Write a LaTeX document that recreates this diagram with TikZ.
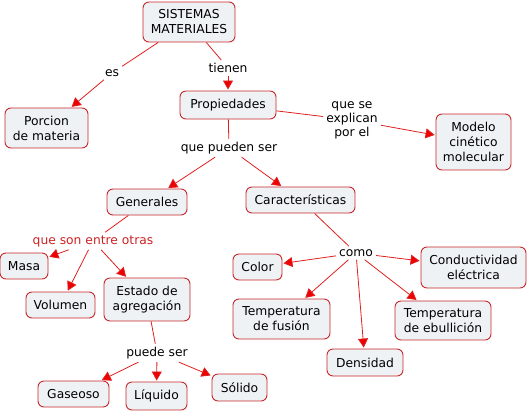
\documentclass[tikz,border=0pt]{standalone}
\usepackage{fontspec}
\setmainfont{DejaVu Sans}
\usetikzlibrary{arrows.meta}
\definecolor{boxborder}{HTML}{C8282A}
\definecolor{boxfill}{HTML}{EEF2F5}
\definecolor{linkred}{HTML}{E02020}
\definecolor{tipred}{HTML}{EE0000}
\definecolor{lblred}{HTML}{CC2222}
\tikzset{
  concept/.style={draw=boxborder, fill=boxfill, rounded corners=6pt, line width=0.9pt,
    align=center, inner sep=0pt, font=\fontsize{12.3}{15}\selectfont},
  linklabel/.style={inner sep=3pt, align=center, font=\fontsize{12.3}{14}\selectfont, text=black},
  link/.style={draw=linkred, line width=0.8pt},
  arrowlink/.style={link, -{Triangle[length=9pt,width=10pt,fill=tipred]}, shorten >=1pt}
}
\begin{document}
\begin{tikzpicture}[x=1pt,y=-1pt]
\useasboundingbox (0,0) rectangle (527,413);
% concepts
\node[concept, minimum width=92pt, minimum height=40pt] (sm) at (189,22) {SISTEMAS\\MATERIALES};
\node[concept, minimum width=83pt, minimum height=40pt] (por) at (46.5,128) {Porcion\\de materia};
\node[concept, minimum width=96pt, minimum height=28pt] (prop) at (228,105) {Propiedades};
\node[concept, minimum width=75pt, minimum height=56pt] (mod) at (473.5,142) {Modelo\\cinético\\molecular};
\node[concept, minimum width=80pt, minimum height=26pt] (gen) at (147,202) {Generales};
\node[concept, minimum width=109pt, minimum height=26pt] (car) at (300.5,200) {Características};
\node[concept, minimum width=48pt, minimum height=26pt] (masa) at (24,266) {Masa};
\node[concept, minimum width=69pt, minimum height=26pt] (vol) at (60.5,305) {Volumen};
\node[concept, minimum width=86pt, minimum height=43pt] (est) at (147,299.5) {Estado de\\agregación};
\node[concept, minimum width=71pt, minimum height=26pt] (gas) at (73.5,394) {Gaseoso};
\node[concept, minimum width=61pt, minimum height=28pt] (liq) at (156.5,396) {Líquido};
\node[concept, minimum width=55pt, minimum height=27pt] (sol) at (239.5,387.5) {Sólido};
\node[concept, minimum width=49pt, minimum height=26pt] (color) at (257.5,267) {Color};
\node[concept, minimum width=105pt, minimum height=41pt] (cond) at (473.5,267.5) {Conductividad\\eléctrica};
\node[concept, minimum width=97pt, minimum height=40pt] (tf) at (281.5,319) {Temperatura\\de fusión};
\node[concept, minimum width=96pt, minimum height=39pt] (te) at (443,320.5) {Temperatura\\de ebullición};
\node[concept, minimum width=76pt, minimum height=27pt] (den) at (365,362.5) {Densidad};
% link labels
\node[linklabel] (es) at (112,73) {es};
\node[linklabel] (tienen) at (228,68) {tienen};
\node[linklabel] (qse) at (352,120) {que se\\explican\\por el};
\node[linklabel] (qps) at (229,148) {que pueden ser};
\node[linklabel, text=lblred] (qseo) at (93,241) {que son entre otras};
\node[linklabel] (ps) at (157,353) {puede ser};
\node[linklabel] (como) at (356,253) {como};
% connectors
\draw[link] (sm) -- (es);
\draw[arrowlink] (es) -- (por);
\draw[link] (sm) -- (tienen);
\draw[arrowlink] (tienen) -- (prop);
\draw[link] (prop) -- (qse);
\draw[arrowlink] (qse) -- (mod);
\draw[link] (prop) -- (qps);
\draw[arrowlink] (qps) -- (gen);
\draw[arrowlink] (qps) -- (car);
\draw[link] (gen) -- (qseo);
\draw[arrowlink] (qseo) -- (masa);
\draw[arrowlink] (qseo) -- (vol);
\draw[arrowlink] (qseo) -- (est);
\draw[link] (est) -- (ps);
\draw[arrowlink] (ps) -- (gas);
\draw[arrowlink] (ps) -- (liq);
\draw[arrowlink] (ps) -- (sol);
\draw[link] (car) -- (como);
\draw[arrowlink] (como) -- (color);
\draw[arrowlink] (como) -- (cond);
\draw[arrowlink] (como) -- (tf);
\draw[arrowlink] (como) -- (te);
\draw[arrowlink] (como) -- (den);
\end{tikzpicture}
\end{document}
